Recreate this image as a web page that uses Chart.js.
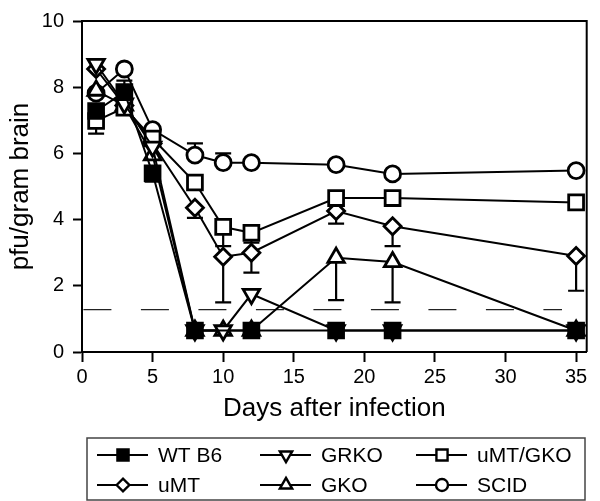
<!DOCTYPE html>
<html>
<head>
<meta charset="utf-8">
<script src="https://cdn.jsdelivr.net/npm/chart.js@4.4.0/dist/chart.umd.min.js"></script>
<style>
  body { margin: 0; background: #fff; }
  #wrap { width: 600px; height: 501px; }
</style>
</head>
<body>
<div id="wrap"><canvas id="brainChart" width="600" height="501"></canvas></div>
<script>
// sampling days (x axis)
const days = [1, 3, 5, 8, 10, 12, 18, 22, 35];

// pfu/gram brain per strain (null = not measured)
const wtB6   = [7.28, 7.85, 5.4, 0.65, null, 0.65, 0.65, 0.65, 0.65];
const grko   = [8.7, 7.5, 6.2, 0.65, 0.65, 1.75, 0.65, 0.65, 0.65];
const umtGko = [6.98, 7.38, 6.45, 5.12, 3.78, 3.6, 4.65, 4.65, 4.52];
const umt    = [8.55, 7.45, 6.3, 4.36, 2.88, 3.0, 4.26, 3.8, 2.9];
const gko    = [7.9, 7.45, 5.95, 0.65, 0.65, 0.65, 2.85, 2.72, 0.65];
const scid   = [7.82, 8.55, 6.72, 5.95, 5.72, 5.72, 5.66, 5.38, 5.48];

// error bar end values (one side only, as in the figure)
const wtB6Err   = [null, 8.2, 5.15, null, null, null, null, null, null];
const grkoErr   = [null, null, null, null, null, null, null, null, null];
const umtGkoErr = [6.6, null, null, null, 3.2, 3.3, null, null, null];
const umtErr    = [null, null, null, 4.05, 1.5, 2.4, 3.88, 3.2, 1.85];
const gkoErr    = [null, null, null, null, null, null, 1.57, 1.5, null];
const scidErr   = [null, null, null, 6.3, 6.0, null, null, null, null];

// detection limit (dashed line)
const limitValue = 1.28;
const limitRange = [0.1, 34];

const xTicks = [0, 5, 10, 15, 20, 25, 30, 35];

const FONT = "'Liberation Sans', Arial, Helvetica, sans-serif";

const toPoints = arr => days.map((d, i) => ({ x: d, y: arr[i] }));

const series = [
    { label: 'WT B6', values: wtB6, err: wtB6Err, style: 'rect', radius: 10.5, rot: 0, fill: '#000' },
    { label: 'GRKO', values: grko, err: grkoErr, style: 'triangle', radius: 9.5, rot: 180, fill: '#fff' },
    { label: 'uMT/GKO', values: umtGko, err: umtGkoErr, style: 'rect', radius: 10.5, rot: 0, fill: '#fff' },
    { label: 'uMT', values: umt, err: umtErr, style: 'rectRot', radius: 8.5, rot: 0, fill: '#fff' },
    { label: 'GKO', values: gko, err: gkoErr, style: 'triangle', radius: 9.5, rot: 0, fill: '#fff' },
    { label: 'SCID', values: scid, err: scidErr, style: 'circle', radius: 8, rot: 0, fill: '#fff' }
];

const datasets = series.map(s => ({
    label: s.label,
    data: toPoints(s.values),
    borderColor: '#000',
    borderWidth: 2,
    pointStyle: s.style,
    pointRadius: s.radius,
    pointRotation: s.rot,
    pointBackgroundColor: s.fill,
    pointBorderColor: '#000',
    pointBorderWidth: 2.8,
    spanGaps: true,
    clip: false,
    errEnds: s.err
}));

datasets.push({
    label: 'limit',
    data: limitRange.map(x => ({ x: x, y: limitValue })),
    borderColor: '#222',
    borderWidth: 1.3,
    borderDash: [28, 29.5],
    pointRadius: 0,
    order: 10
});

// vertical error bars with caps, drawn under the markers
const errorBars = {
    id: 'errorBars',
    beforeDatasetsDraw(chart) {
        const { ctx, scales: { x, y } } = chart;
        ctx.save();
        ctx.strokeStyle = '#000';
        ctx.lineWidth = 2.2;
        chart.data.datasets.forEach(ds => {
            if (!ds.errEnds) return;
            ds.errEnds.forEach((end, i) => {
                if (end == null || ds.data[i].y == null) return;
                const px = x.getPixelForValue(ds.data[i].x);
                const py = y.getPixelForValue(ds.data[i].y);
                const pe = y.getPixelForValue(end);
                ctx.beginPath();
                ctx.moveTo(px, py);
                ctx.lineTo(px, pe);
                ctx.moveTo(px - 8, pe);
                ctx.lineTo(px + 8, pe);
                ctx.stroke();
            });
        });
        ctx.restore();
    }
};

// box round the plot area and the 3-column legend under it
const frameAndLegend = {
    id: 'frameAndLegend',
    afterDraw(chart) {
        const { ctx, chartArea: a } = chart;
        ctx.save();
        ctx.strokeStyle = '#000';
        ctx.lineWidth = 2;
        ctx.beginPath();
        ctx.moveTo(a.left, a.top);
        ctx.lineTo(a.right, a.top);
        ctx.lineTo(a.right, a.bottom);
        ctx.stroke();

        // legend box
        ctx.strokeStyle = '#444';
        ctx.lineWidth = 1.5;
        ctx.strokeRect(87, 438, 498, 62);

        const cols = [97, 260, 416];
        const rows = [455, 485];
        ctx.font = '21px ' + FONT;
        ctx.textBaseline = 'middle';
        series.forEach((s, k) => {
            const lx = cols[k % 3];
            const ly = rows[Math.floor(k / 3)];
            ctx.strokeStyle = '#000';
            ctx.lineWidth = 2;
            ctx.beginPath();
            ctx.moveTo(lx, ly);
            ctx.lineTo(lx + 51, ly);
            ctx.stroke();
            ctx.lineWidth = 2.4;
            ctx.fillStyle = s.fill;
            Chart.helpers.drawPoint(ctx, {
                pointStyle: s.style,
                radius: s.radius * 0.75,
                rotation: s.rot,
                borderWidth: 2.4
            }, lx + 26, ly);
            ctx.fillStyle = '#000';
            ctx.fillText(s.label, lx + 61, ly + 1);
        });
        ctx.restore();
    }
};

new Chart(document.getElementById('brainChart'), {
    type: 'line',
    data: { datasets: datasets },
    options: {
        responsive: false,
        animation: false,
        devicePixelRatio: 1,
        layout: { padding: { top: 7, right: 5, left: 0, bottom: 65 } },
        plugins: {
            legend: { display: false },
            tooltip: { enabled: false }
        },
        scales: {
            x: {
                type: 'linear',
                min: 0,
                max: 35.75,
                afterFit: scale => { scale.height = 84; },
                afterBuildTicks: scale => { scale.ticks = xTicks.map(v => ({ value: v })); },
                ticks: { color: '#000', padding: 3, font: { family: FONT, size: 20 } },
                grid: { drawOnChartArea: false, drawTicks: true, tickLength: 10, tickWidth: 2, tickColor: '#000' },
                border: { color: '#000', width: 2 },
                title: {
                    display: true,
                    text: 'Days after infection',
                    color: '#000',
                    font: { family: FONT, size: 26 },
                    padding: { top: 0, bottom: 12 }
                }
            },
            y: {
                min: 0,
                max: 10,
                afterFit: scale => { scale.width = 82; },
                ticks: { stepSize: 2, color: '#000', padding: 9, font: { family: FONT, size: 20 } },
                grid: { drawOnChartArea: false, drawTicks: true, tickLength: 9, tickWidth: 2, tickColor: '#000' },
                border: { color: '#000', width: 2 },
                title: {
                    display: true,
                    text: 'pfu/gram brain',
                    color: '#000',
                    font: { family: FONT, size: 26 },
                    padding: { top: 5, bottom: 0 }
                }
            }
        }
    },
    plugins: [errorBars, frameAndLegend]
});
</script>
</body>
</html>
